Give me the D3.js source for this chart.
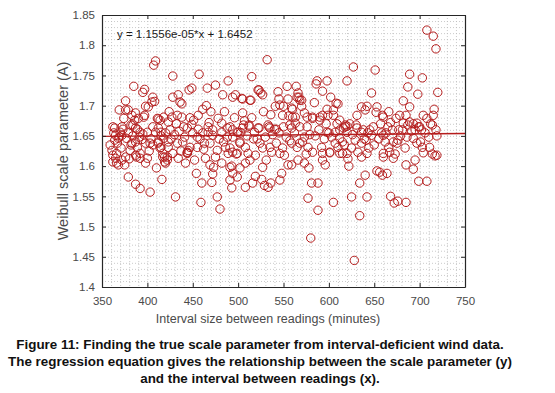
<!DOCTYPE html>
<html><head><meta charset="utf-8">
<script src="https://cdn.jsdelivr.net/npm/d3@7"></script>
<style>
html,body{margin:0;padding:0;background:#fff;}
svg{display:block;font-family:"Liberation Sans",Arial,sans-serif;}
</style></head>
<body>
<svg id="chart" width="555" height="393"></svg>
<script>
// ---------- data ----------
const xTicks = [350,400,450,500,550,600,650,700,750];
const yTicks = [1.4,1.45,1.5,1.55,1.6,1.65,1.7,1.75,1.8,1.85];
const xTickLabels = ["350","400","450","500","550","600","650","700","750"];
const yTickLabels = ["1.4","1.45","1.5","1.55","1.6","1.65","1.7","1.75","1.8","1.85"];
const slope = 1.1556e-05;
const intercept = 1.6452;
const equationText = "y = 1.1556e-05*x + 1.6452";
const xLabel = "Interval size between readings (minutes)";
const yLabel = "Weibull scale parameter (A)";
const caption = [
  "Figure 11: Finding the true scale parameter from interval-deficient wind data.",
  "The regression equation gives the relationship between the scale parameter (y)",
  "and the interval between readings (x)."
];
const intervalX = [
 362,372,369,376,376,370,372,369,364,359,365,368,371,362,365,362,368,376,374,364,373,379,379,366,372,375,377,361,366,379,380,363,367,
 385,383,390,384,389,382,387,392,384,395,382,387,398,387,392,387,392,388,383,381,389,392,396,397,386,387,395,397,398,398,394,391,
 409,407,406,408,405,401,411,414,412,418,400,412,415,406,409,415,406,412,415,417,419,410,403,416,400,403,412,414,417,419,420,420,404,402,418,
 428,428,434,436,438,427,433,438,423,425,423,422,431,434,422,423,428,433,439,430,435,426,437,432,424,
 457,446,449,461,451,456,444,449,456,444,454,459,460,444,445,444,447,455,455,441,450,458,442,452,447,440,
 466,475,478,467,472,471,477,480,472,464,469,473,463,469,477,461,467,472,465,470,479,475,462,468,
 489,483,494,482,488,482,493,498,491,493,494,491,486,489,494,482,488,494,500,497,491,494,499,499,499,491,485,496,484,
 505,514,505,515,504,513,506,512,505,512,502,508,511,519,502,508,508,516,519,502,510,517,515,507,518,503,513,
 522,525,527,523,532,522,533,535,523,534,524,527,535,537,527,526,529,533,536,541,540,530,538,521,528,536,531,
 544,545,554,555,550,556,549,560,542,559,542,546,551,549,559,546,548,555,559,560,557,550,546,559,553,545,557,
 564,565,568,566,570,570,576,563,568,576,565,568,571,577,573,578,577,567,573,562,573,563,579,566,575,
 587,586,598,593,582,590,593,598,599,582,590,598,582,592,593,581,588,588,580,593,596,585,595,589,584,597,
 602,608,610,605,605,612,618,620,616,620,600,607,612,618,620,601,612,615,620,612,615,607,610,601,605,603,617,609,
 627,631,636,630,631,636,625,629,636,632,636,622,625,628,634,634,640,626,623,638,621,639,
 651,647,642,653,652,659,645,643,647,649,641,642,640,642,653,656,659,660,660,655,650,657,644,658,
 660,663,664,671,668,672,676,674,678,660,666,667,671,675,676,665,670,668,679,662,673,677,666,
 687,689,698,682,689,682,685,687,689,693,697,686,693,697,685,685,693,699,695,681,691,684,695,699,
 708,715,718,703,720,716,700,704,708,715,714,719,703,710,711,719,708,704,714,717,702,706,712,718,701
];
const scaleA = [
 1.665,1.665,1.693,1.693,1.708,1.656,1.651,1.648,1.643,1.635,1.651,1.646,1.630,1.618,1.613,1.607,1.602,1.615,1.679,1.663,1.661,1.655,1.582,1.605,1.610,1.602,1.646,1.626,1.621,1.693,1.612,1.655,1.638,
 1.732,1.684,1.679,1.668,1.661,1.668,1.663,1.656,1.650,1.653,1.635,1.640,1.638,1.618,1.613,1.570,1.563,1.615,1.638,1.626,1.631,1.621,1.681,1.684,1.676,1.688,1.722,1.727,1.699,1.605,1.644,1.648,
 1.774,1.767,1.714,1.707,1.706,1.698,1.679,1.676,1.678,1.681,1.656,1.663,1.656,1.665,1.656,1.650,1.635,1.638,1.631,1.615,1.607,1.597,1.557,1.578,1.613,1.638,1.640,1.630,1.621,1.615,1.605,1.655,1.645,1.625,1.646,
 1.749,1.714,1.718,1.706,1.703,1.681,1.684,1.681,1.673,1.660,1.640,1.610,1.549,1.613,1.615,1.631,1.621,1.638,1.640,1.652,1.658,1.645,1.625,1.670,1.690,
 1.752,1.726,1.729,1.694,1.676,1.684,1.663,1.669,1.661,1.622,1.588,1.540,1.572,1.623,1.626,1.621,1.631,1.631,1.648,1.648,1.655,1.645,1.605,1.610,1.680,1.665,
 1.729,1.734,1.679,1.665,1.660,1.573,1.549,1.529,1.587,1.613,1.602,1.598,1.638,1.638,1.626,1.655,1.656,1.651,1.700,1.690,1.645,1.615,1.628,1.672,
 1.741,1.718,1.714,1.671,1.663,1.605,1.600,1.620,1.577,1.564,1.588,1.598,1.631,1.621,1.623,1.656,1.648,1.648,1.656,1.718,1.665,1.660,1.656,1.582,1.621,1.630,1.690,1.680,1.640,
 1.711,1.709,1.688,1.748,1.712,1.709,1.668,1.668,1.663,1.666,1.640,1.631,1.621,1.618,1.597,1.605,1.565,1.572,1.583,1.638,1.650,1.645,1.680,1.675,1.656,1.655,1.610,
 1.726,1.721,1.718,1.726,1.776,1.663,1.668,1.663,1.663,1.665,1.638,1.630,1.631,1.623,1.598,1.578,1.568,1.565,1.572,1.699,1.661,1.648,1.652,1.645,1.690,1.685,1.610,
 1.723,1.711,1.732,1.711,1.699,1.683,1.684,1.681,1.661,1.663,1.638,1.621,1.618,1.630,1.638,1.577,1.588,1.602,1.602,1.694,1.668,1.665,1.701,1.696,1.648,1.655,1.642,
 1.732,1.714,1.709,1.721,1.709,1.699,1.681,1.671,1.665,1.665,1.631,1.638,1.640,1.631,1.605,1.597,1.547,1.714,1.688,1.655,1.648,1.681,1.652,1.610,1.620,
 1.741,1.736,1.741,1.724,1.679,1.681,1.684,1.694,1.684,1.681,1.676,1.656,1.623,1.631,1.621,1.572,1.572,1.527,1.481,1.610,1.602,1.650,1.645,1.660,1.705,1.670,
 1.714,1.704,1.703,1.693,1.684,1.676,1.668,1.666,1.663,1.741,1.655,1.656,1.660,1.665,1.656,1.623,1.621,1.621,1.621,1.646,1.640,1.638,1.631,1.622,1.540,1.648,1.635,1.670,
 1.764,1.684,1.698,1.668,1.663,1.656,1.630,1.643,1.638,1.623,1.615,1.600,1.549,1.444,1.572,1.518,1.693,1.652,1.670,1.660,1.612,1.645,
 1.759,1.721,1.699,1.698,1.689,1.684,1.660,1.655,1.651,1.665,1.643,1.621,1.585,1.549,1.592,1.590,1.585,1.615,1.681,1.645,1.635,1.670,1.630,1.655,
 1.651,1.655,1.588,1.613,1.550,1.539,1.542,1.679,1.684,1.621,1.631,1.623,1.640,1.638,1.643,1.665,1.660,1.672,1.650,1.640,1.620,1.660,1.690,
 1.731,1.752,1.719,1.708,1.698,1.671,1.684,1.668,1.673,1.670,1.671,1.648,1.646,1.638,1.540,1.602,1.595,1.575,1.610,1.660,1.658,1.630,1.660,1.665,
 1.825,1.815,1.794,1.746,1.722,1.694,1.665,1.684,1.679,1.684,1.668,1.650,1.631,1.648,1.631,1.618,1.575,1.622,1.620,1.617,1.660,1.655,1.670,1.660,1.640
];

// ---------- layout ----------
const W = 555, H = 393;
const m = {left:102, right:465, top:15, bottom:287};
const red = "#b51c1c";
const axisCol = "#262626";
const svg = d3.select("#chart");
svg.append("rect").attr("width",W).attr("height",H).attr("fill","#fff");

const x = d3.scaleLinear().domain([350,750]).range([m.left,m.right]);
const y = d3.scaleLinear().domain([1.4,1.85]).range([m.bottom,m.top]);

// minor grid
const gGrid = svg.append("g");
gGrid.selectAll("line.vx").data(d3.range(360,750,10)).join("line")
  .attr("x1",d=>x(d)+0.5).attr("x2",d=>x(d)+0.5).attr("y1",m.top).attr("y2",m.bottom)
  .attr("stroke","#bdbdbd").attr("stroke-width",0.8).attr("stroke-dasharray","1,2");
gGrid.selectAll("line.hy").data(d3.range(1,45).map(i=>1.4+i*0.01)).join("line")
  .attr("y1",d=>y(d)+0.5).attr("y2",d=>y(d)+0.5).attr("x1",m.left).attr("x2",m.right)
  .attr("stroke","#bdbdbd").attr("stroke-width",0.8).attr("stroke-dasharray","1,2");

// points
svg.append("g").selectAll("circle").data(intervalX.map((d,i)=>[d,scaleA[i]])).join("circle")
  .attr("cx",d=>x(d[0])).attr("cy",d=>y(d[1])).attr("r",4.2)
  .attr("fill","none").attr("stroke",red).attr("stroke-width",1);

// regression line
svg.append("line")
  .attr("x1",x(350)).attr("x2",x(750))
  .attr("y1",y(slope*350+intercept)).attr("y2",y(slope*750+intercept))
  .attr("stroke",red).attr("stroke-width",1.4);

// axes (ticks inside, box)
const tickFont = "11.5px";
const xAxis = d3.axisBottom(x).tickValues(xTicks).tickFormat((d,i)=>xTickLabels[i]).tickSizeInner(-4).tickSizeOuter(0).tickPadding(10);
const yAxis = d3.axisLeft(y).tickValues(yTicks).tickFormat((d,i)=>yTickLabels[i]).tickSizeInner(-4).tickSizeOuter(0).tickPadding(7);
const gx = svg.append("g").attr("transform",`translate(0,${m.bottom})`).call(xAxis);
const gy = svg.append("g").attr("transform",`translate(${m.left},0)`).call(yAxis);
const gxt = svg.append("g").attr("transform",`translate(0,${m.top})`).call(d3.axisTop(x).tickValues(xTicks).tickFormat("").tickSizeInner(-4).tickSizeOuter(0));
const gyr = svg.append("g").attr("transform",`translate(${m.right},0)`).call(d3.axisRight(y).tickValues(yTicks).tickFormat("").tickSizeInner(-4).tickSizeOuter(0));
[gx,gy,gxt,gyr].forEach(g=>{
  g.selectAll("path.domain").attr("stroke",axisCol).attr("stroke-width",1.2);
  g.selectAll(".tick line").attr("stroke",axisCol).attr("stroke-width",1);
  g.selectAll("text").attr("fill","#4a4a4a").style("font-size",tickFont)
    .style("font-family","'Liberation Sans',Arial,sans-serif");
});
gx.selectAll("text").attr("dy","0.71em");

// equation
svg.append("text").attr("x",117).attr("y",38).text(equationText)
  .attr("fill","#1a1a1a").style("font-size","11.5px");

// axis labels
svg.append("text").attr("x",268).attr("y",323).attr("text-anchor","middle")
  .text(xLabel).attr("fill","#4a4a4a").style("font-size","12.5px");
svg.append("text").attr("transform","translate(68,151) rotate(-90)").attr("text-anchor","middle")
  .text(yLabel).attr("fill","#4a4a4a").style("font-size","14.5px");

// caption
svg.append("g").selectAll("text").data(caption).join("text")
  .attr("x",260).attr("y",(d,i)=>348.5+i*17.3).attr("text-anchor","middle")
  .text(d=>d).attr("fill","#111").style("font-size","13.4px").style("font-weight","bold");
</script>
</body></html>
